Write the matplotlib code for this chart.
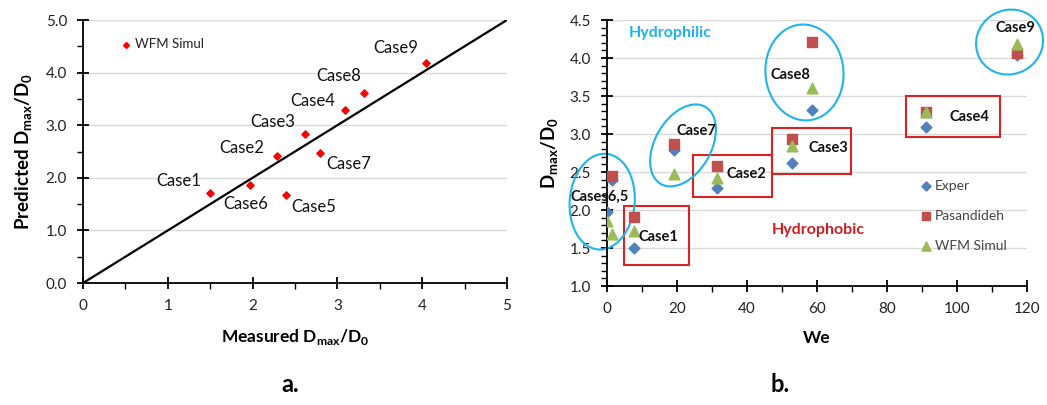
import numpy as np
import matplotlib
matplotlib.use("Agg")
import matplotlib.pyplot as plt
from matplotlib.patches import Ellipse, Rectangle
from matplotlib.transforms import ScaledTranslation
from matplotlib.ticker import MultipleLocator

plt.rcParams['font.family'] = ['Lato', 'DejaVu Sans']

# --- data ---
cases = ['Case1', 'Case2', 'Case3', 'Case4', 'Case5', 'Case6', 'Case7', 'Case8', 'Case9']
we = [7.9, 31.5, 53.0, 91.2, 1.5, 0.2, 19.1, 58.7, 117.1]
exper = [1.50, 2.29, 2.62, 3.09, 2.39, 1.97, 2.79, 3.31, 4.04]
pasandideh = [1.91, 2.58, 2.94, 3.29, 2.45, np.nan, 2.87, 4.21, 4.07]
wfm = [1.72, 2.42, 2.84, 3.29, 1.68, 1.86, 2.48, 3.61, 4.18]

# label positions for panel a (data coords)
lab_a = {'Case1': (1.13, 1.93), 'Case2': (1.87, 2.57), 'Case3': (2.24, 3.06),
         'Case4': (2.71, 3.46), 'Case5': (2.72, 1.45), 'Case6': (1.92, 1.50),
         'Case7': (3.13, 2.26), 'Case8': (3.01, 3.94), 'Case9': (3.69, 4.47)}

# labels for panel b
lab_b = [('Cases6,5', -1.9, 2.17), ('Case1', 14.7, 1.65), ('Case7', 25.7, 3.04),
         ('Case2', 40.0, 2.47), ('Case3', 63.3, 2.82), ('Case8', 52.6, 3.78),
         ('Case4', 103.5, 3.23), ('Case9', 116.7, 4.39)]

fig = plt.figure(figsize=(10.47, 4.05), dpi=100)
ax1 = fig.add_axes([0.0793, 0.3012, 0.4049, 0.6494])
ax2 = fig.add_axes([0.5795, 0.2938, 0.4011, 0.6568])

grid_c = '#d9d9d9'
tick_c = '#222222'

# ---------- panel a ----------
ax1.plot([0, 5], [0, 5], color='black', lw=1.6, zorder=2)
ax1.scatter(exper, wfm, marker='D', s=14, color='#ff0000', zorder=3, label='WFM Simul')
for c, m, p in zip(cases, exper, wfm):
    tx, ty = lab_a[c]
    ax1.text(tx, ty, c, fontsize=12, ha='center', va='center', color='#111111')
ax1.set_xlim(0, 5)
ax1.set_ylim(0, 5)
ax1.xaxis.set_major_locator(MultipleLocator(1))
ax1.xaxis.set_minor_locator(MultipleLocator(0.5))
ax1.yaxis.set_major_locator(MultipleLocator(1))
ax1.yaxis.set_minor_locator(MultipleLocator(0.5))
ax1.set_yticklabels([f'{v:.1f}' for v in ax1.get_yticks()])
ax1.grid(axis='y', color=grid_c, lw=1)
ax1.set_axisbelow(True)
ax1.set_xlabel('Measured D$_{\\mathregular{max}}$/D$_{\\mathregular{0}}$', fontsize=12.5,
               fontweight='bold', labelpad=10)
ax1.set_ylabel('Predicted D$_{\\mathregular{max}}$/D$_{\\mathregular{0}}$', fontsize=13.5,
               fontweight='bold', labelpad=8)
ax1.legend(loc='upper left', bbox_to_anchor=(0.092, 0.93), frameon=False,
           fontsize=9.5, handlelength=0.6, handletextpad=0.35, markerscale=0.8,
           borderaxespad=0, borderpad=0, labelcolor='#222222')

# ---------- panel b ----------
ax2.scatter(we, exper, marker='D', s=30, color='#4f81bd', zorder=3, label='Exper')
ax2.scatter(we, pasandideh, marker='s', s=55, color='#c0504d', zorder=3, label='Pasandideh')
ax2.scatter(we, wfm, marker='^', s=60, color='#9bbb59', zorder=4, label='WFM Simul')
for t, x, y in lab_b:
    ax2.text(x, y, t, fontsize=10.5, fontweight='bold', ha='center', va='center',
             color='#111111', zorder=5, clip_on=False)
ax2.text(6.4, 4.33, 'Hydrophilic', color='#1fb4ea', fontsize=11.5, fontweight='bold',
         ha='left', va='center')
ax2.text(47.1, 1.74, 'Hydrophobic', color='#cc1f1f', fontsize=11.5, fontweight='bold',
         ha='left', va='center')

# red boxes around hydrophobic cases
boxes = [(5.0, 1.27, 23.6, 2.05), (24.6, 2.175, 47.3, 2.72),
         (47.3, 2.474, 69.8, 3.075), (85.5, 2.964, 112.5, 3.504)]
for x0, y0, x1, y1 in boxes:
    ax2.add_patch(Rectangle((x0, y0), x1 - x0, y1 - y0, fill=False, ec='#d92222',
                            lw=1.5, zorder=2))

# blue ellipses around hydrophilic cases (size in pixels, centre in data coords)
ells = [(-1.3, 2.11, 96, 65, 85), (21.8, 2.85, 89, 56, 60),
        (56.5, 3.81, 96, 78, 95), (115.1, 4.21, 68, 64, 30)]
for cx, cy, w, h, a in ells:
    tr = fig.dpi_scale_trans + ScaledTranslation(cx, cy, ax2.transData)
    ax2.add_patch(Ellipse((0, 0), w / 100, h / 100, angle=a, transform=tr, fill=False,
                          ec='#1fb4ea', lw=1.5, clip_on=False, zorder=2))

ax2.set_xlim(0, 120)
ax2.set_ylim(1.0, 4.5)
ax2.xaxis.set_major_locator(MultipleLocator(20))
ax2.xaxis.set_minor_locator(MultipleLocator(10))
ax2.yaxis.set_major_locator(MultipleLocator(0.5))
ax2.yaxis.set_minor_locator(MultipleLocator(0.1))
ax2.set_yticks(np.arange(1.0, 4.51, 0.5))
ax2.set_yticklabels([f'{v:.1f}' for v in np.arange(1.0, 4.51, 0.5)])
ax2.grid(axis='y', color=grid_c, lw=1)
ax2.set_axisbelow(True)
ax2.set_xlabel('We', fontsize=12.5, fontweight='bold', labelpad=10)
ax2.set_ylabel('D$_{\\mathregular{max}}$/D$_{\\mathregular{0}}$', fontsize=13.5,
               fontweight='bold', labelpad=6)
ax2.legend(loc='upper left', bbox_to_anchor=(0.75, 0.40), frameon=False, fontsize=10,
           labelspacing=1.3, handlelength=0.6, handletextpad=0.35, markerscale=0.85,
           borderaxespad=0, borderpad=0, labelcolor='#444444')

for ax in (ax1, ax2):
    for s in ('top', 'right'):
        ax.spines[s].set_visible(False)
    for s in ('left', 'bottom'):
        ax.spines[s].set_color('black')
        ax.spines[s].set_linewidth(1.3)
    ax.tick_params(which='major', direction='inout', length=9, width=1.3, labelsize=11,
                   labelcolor=tick_c, pad=7)
    ax.tick_params(which='minor', direction='out', length=4, width=1.0)

fig.text(0.277, 0.05, 'a.', fontsize=17, fontweight='bold', ha='center', va='center')
fig.text(0.745, 0.05, 'b.', fontsize=17, fontweight='bold', ha='center', va='center')

fig.savefig('out.png', dpi=100)
